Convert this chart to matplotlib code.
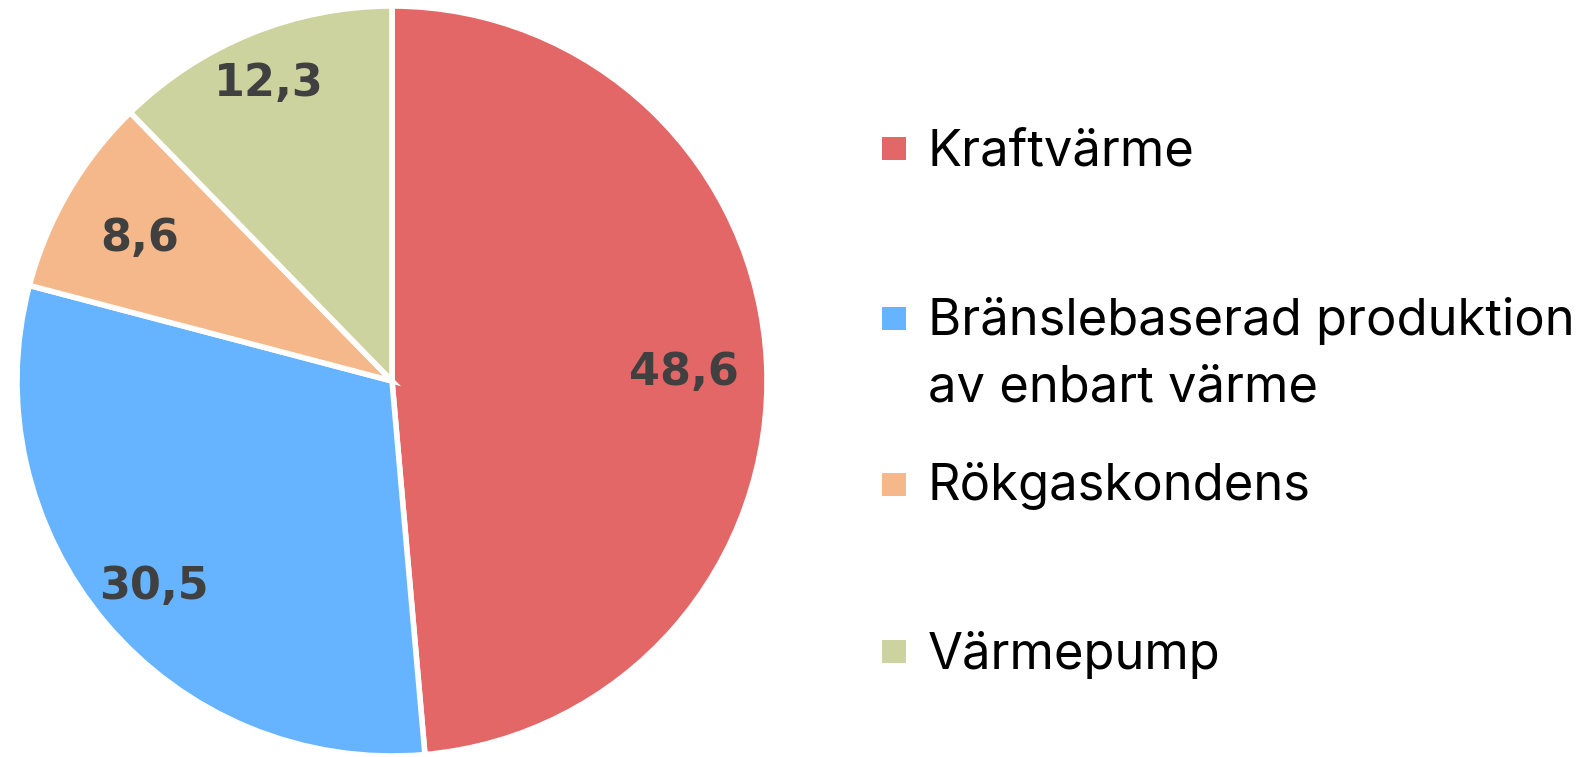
import matplotlib
matplotlib.use("Agg")
import matplotlib.pyplot as plt
import numpy as np
from matplotlib.patches import Rectangle

categories = ["Kraftvärme", "Bränslebaserad produktion\nav enbart värme", "Rökgaskondens", "Värmepump"]
values = [48.6, 30.5, 8.6, 12.3]
value_labels = ["48,6", "30,5", "8,6", "12,3"]
colors = ["#E46767", "#66B3FF", "#F5B88A", "#CCD39F"]

W, H = 1578, 757
fig = plt.figure(figsize=(W / 100, H / 100), dpi=100)

# pie axes (pixel geometry)
cx, cy, r = 392, 381, 375
ax = fig.add_axes([(cx - r) / W, (H - cy - r) / H, 2 * r / W, 2 * r / H])
wedges, _ = ax.pie(values, colors=colors, startangle=90, counterclock=False,
                   radius=1.0, wedgeprops=dict(edgecolor="white", linewidth=4))
ax.set_xlim(-1, 1)
ax.set_ylim(-1, 1)
ax.set_aspect("equal")
ax.axis("off")

label_dist = [0.78, 0.83, 0.78, 0.87]
for w, txt, d in zip(wedges, value_labels, label_dist):
    ang = np.deg2rad((w.theta1 + w.theta2) / 2)
    ax.text(d * np.cos(ang), d * np.sin(ang), txt, ha="center", va="center_baseline",
            fontsize=32, fontweight="bold", color="#404040", family="DejaVu Sans")

# custom legend in pixel coords
lax = fig.add_axes([0, 0, 1, 1])
lax.set_xlim(0, W)
lax.set_ylim(H, 0)
lax.axis("off")
sq_x, sq_w, sq_h = 882, 24, 23
text_x = 928
first_baselines = [166, 335, 500, 669]
square_centers = [148, 318, 484, 651]
line_gap = 67
for cat, col, base, sc in zip(categories, colors, first_baselines, square_centers):
    lax.add_patch(Rectangle((sq_x, sc - sq_h / 2), sq_w, sq_h, facecolor=col, edgecolor="none"))
    for i, line in enumerate(cat.split("\n")):
        lax.text(text_x, base + i * line_gap, line, ha="left", va="baseline",
                 fontsize=36.5, family="Inter", color="#000000")

fig.savefig("out.png", dpi=100, facecolor="white")
